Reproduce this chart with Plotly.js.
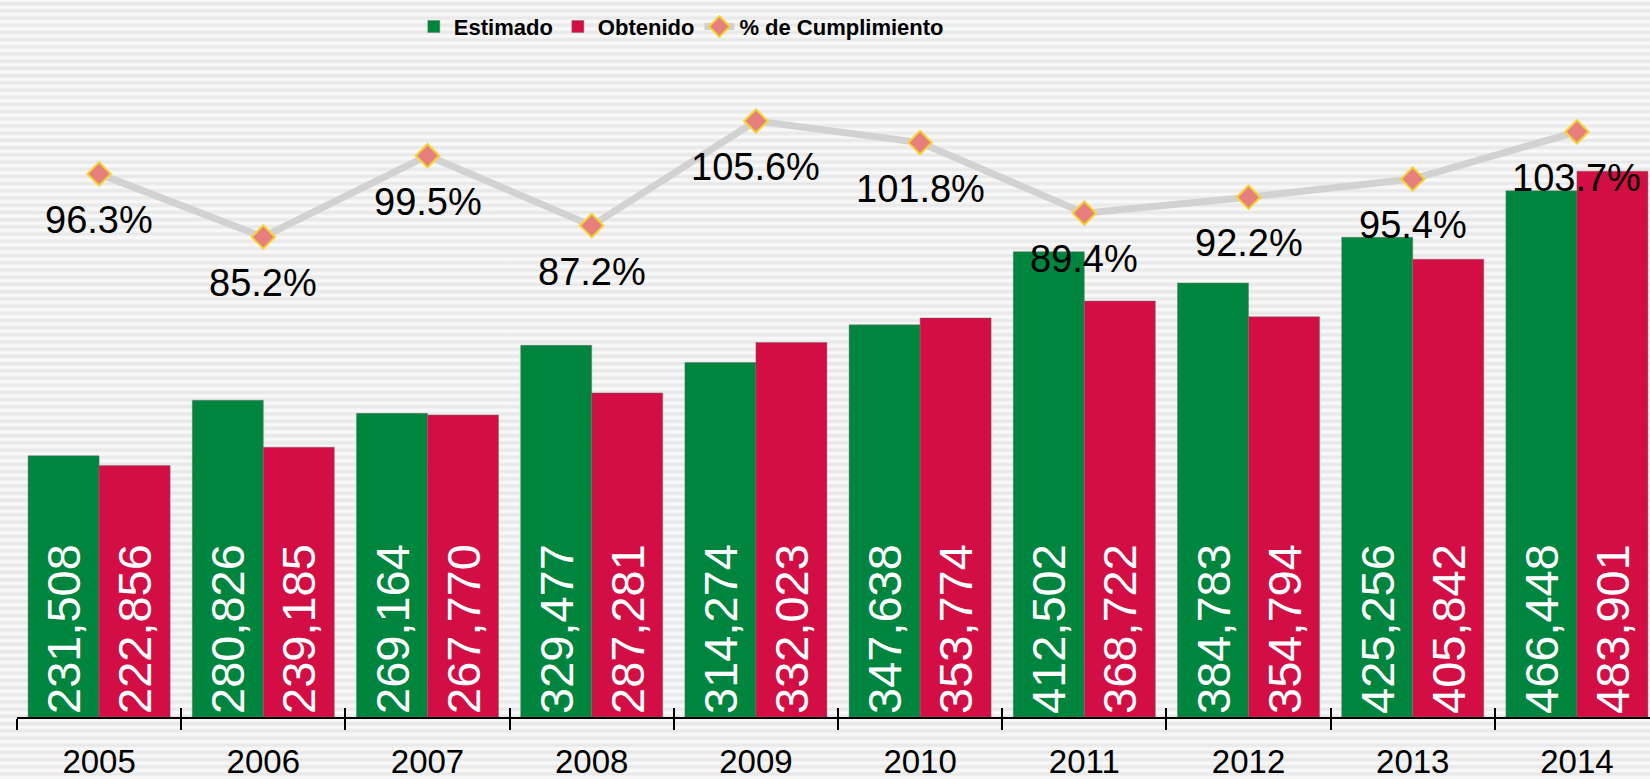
<!DOCTYPE html>
<html>
<head>
<meta charset="utf-8">
<script src="https://cdn.plot.ly/plotly-3.0.1.min.js"></script>
<style>
  html, body { margin: 0; padding: 0; overflow: hidden; }
  body {
    width: 1650px; height: 779px;
    background: repeating-linear-gradient(to bottom, #fbfbfb 0px, #e6e6e6 3.6px, #fbfbfb 7.2px);
  }
  #chart { width: 1650px; height: 779px; }
</style>
</head>
<body>
<div id="chart"></div>
<script>
// ---- Data ----
const years = ['2005','2006','2007','2008','2009','2010','2011','2012','2013','2014'];
const estimado = [231508, 280826, 269164, 329477, 314274, 347638, 412502, 384783, 425256, 466448];
const obtenido = [222856, 239185, 267770, 287281, 332023, 353774, 368722, 354794, 405842, 483901];
const cumplimiento = [96.3, 85.2, 99.5, 87.2, 105.6, 101.8, 89.4, 92.2, 95.4, 103.7];

const FONT = 'Liberation Sans, Arial, Helvetica, sans-serif';
const GREEN = '#00853E';
const RED = '#D20E44';

const barText = {
  textposition: 'inside',
  insidetextanchor: 'start',
  textangle: -90,
  texttemplate: '%{y:,}',
  textfont: { family: FONT, size: 47, color: '#ffffff' },
  hoverinfo: 'x+y'
};

const traces = [
  Object.assign({
    type: 'bar', name: 'Estimado', x: years, y: estimado,
    marker: { color: GREEN, line: { color: 'rgba(110,110,110,0.55)', width: 0.8 } }
  }, barText),
  Object.assign({
    type: 'bar', name: 'Obtenido', x: years, y: obtenido,
    marker: { color: RED, line: { color: 'rgba(110,110,110,0.55)', width: 0.8 } }
  }, barText),
  {
    type: 'scatter', mode: 'lines+markers', name: '% de Cumplimiento',
    x: years, y: cumplimiento, xaxis: 'x2', yaxis: 'y2',
    line: { color: '#d2d2d2', width: 7 },
    marker: { symbol: 'diamond', size: 18, color: '#E77F7F', line: { color: '#F3D431', width: 2 } }
  }
];

const annotations = years.map((yr, i) => ({
  x: i, y: cumplimiento[i], xref: 'x', yref: 'y2',
  text: cumplimiento[i].toFixed(1) + '%',
  showarrow: false, yshift: -46,
  xanchor: 'center', yanchor: 'middle',
  font: { family: FONT, size: 38, color: '#000000' }
}));

const xRange = [-0.5, 9.445];

const layout = {
  width: 1650, height: 779,
  margin: { l: 17, r: 0, t: 0, b: 62 },
  paper_bgcolor: 'rgba(0,0,0,0)',
  plot_bgcolor: 'rgba(0,0,0,0)',
  barmode: 'group', bargap: 0.135, bargroupgap: 0,
  showlegend: true,
  legend: {
    orientation: 'h', x: 0.243, y: 0.992, xanchor: 'left', yanchor: 'top',
    bgcolor: 'rgba(0,0,0,0)',
    font: { family: 'Liberation Sans Narrow, Arial Narrow, Liberation Sans, Arial, sans-serif', size: 22, color: '#000', weight: 'bold' },
    traceorder: 'normal'
  },
  xaxis: {
    type: 'category', categoryorder: 'array', categoryarray: years,
    range: xRange, tickson: 'boundaries',
    ticks: 'outside', ticklen: 11, tickwidth: 2, tickcolor: '#000',
    showline: true, linecolor: '#000', linewidth: 2,
    showgrid: false, zeroline: false, fixedrange: true,
    ticklabelstandoff: 14,
    tickfont: { family: FONT, size: 33, color: '#000' }
  },
  xaxis2: {
    type: 'category', categoryorder: 'array', categoryarray: years,
    overlaying: 'x', side: 'bottom', anchor: 'y2',
    range: xRange, tickson: 'boundaries',
    ticks: 'inside', ticklen: 9, tickwidth: 2, tickcolor: '#000',
    showticklabels: false, showline: false, showgrid: false, zeroline: false
  },
  yaxis: {
    range: [0, 635600], showticklabels: false, showgrid: false, zeroline: false, showline: false, ticks: ''
  },
  yaxis2: {
    range: [0.78, 126.88], overlaying: 'y', side: 'right', anchor: 'x2',
    showticklabels: false, showgrid: false, zeroline: false, showline: false, ticks: ''
  },
  annotations: annotations
};

Plotly.newPlot('chart', traces, layout, { displayModeBar: false, staticPlot: true });
</script>
</body>
</html>
